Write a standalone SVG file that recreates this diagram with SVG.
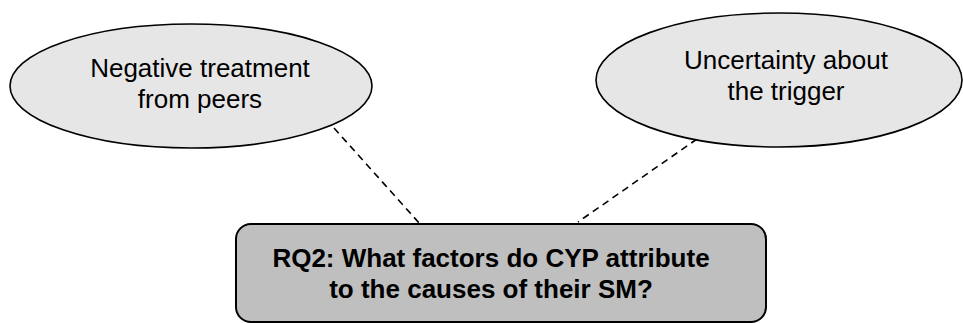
<svg xmlns="http://www.w3.org/2000/svg" width="963" height="323" viewBox="0 0 963 323">
  <style>
    .factor { fill: #e6e6e6; stroke: #000; stroke-width: 1.6; }
    .question { fill: #bfbfbf; stroke: #000; stroke-width: 2; }
    .label { font-family: "Liberation Sans", Arial, sans-serif; font-size: 26px; fill: #000; text-anchor: middle; }
    .bold { font-weight: bold; }
    .link { stroke: #000; stroke-width: 1.6; stroke-dasharray: 7 5; fill: none; }
  </style>
  <rect width="963" height="323" fill="#fff"/>
  <g id="connectors">
    <line class="link" x1="334" y1="128" x2="420" y2="224"/>
    <line class="link" x1="697" y1="139" x2="578" y2="222"/>
  </g>
  <g id="node-peers">
    <ellipse class="factor" cx="191" cy="86" rx="181" ry="62"/>
    <text class="label" x="200" y="77">Negative treatment</text>
    <text class="label" x="200" y="108">from peers</text>
  </g>
  <g id="node-trigger">
    <ellipse class="factor" cx="779" cy="80" rx="183" ry="67"/>
    <text class="label" x="786" y="69">Uncertainty about</text>
    <text class="label" x="786" y="100">the trigger</text>
  </g>
  <g id="node-rq2">
    <rect class="question" x="236" y="224" width="530" height="98" rx="15" ry="15"/>
    <text class="label bold" x="491" y="267">RQ2: What factors do CYP attribute</text>
    <text class="label bold" x="491" y="298">to the causes of their SM?</text>
  </g>
</svg>
